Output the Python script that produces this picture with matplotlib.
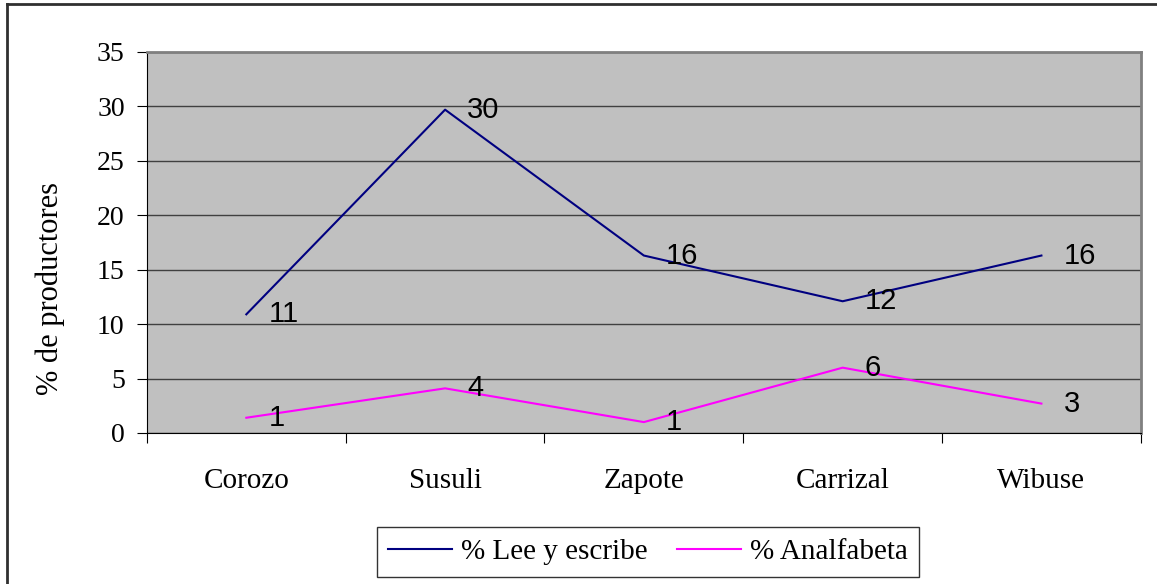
import matplotlib
matplotlib.use('Agg')
import matplotlib.pyplot as plt
from matplotlib.lines import Line2D

# datos
comunidades = ["Corozo", "Susuli", "Zapote", "Carrizal", "Wibuse"]
lee_escribe = [10.9, 29.7, 16.3, 12.1, 16.3]
analfabeta = [1.4, 4.1, 1.0, 6.0, 2.7]
yticks = [0, 5, 10, 15, 20, 25, 30, 35]

serif = ['Liberation Serif', 'DejaVu Serif']
sans = ['Liberation Sans', 'DejaVu Sans']

fig = plt.figure(figsize=(11.57, 5.84), dpi=100)
ax = fig.add_axes([0.127, 0.2586, 0.859, 0.6524])
ax.set_facecolor('#c0c0c0')

x = list(range(len(comunidades)))
ax.plot(x, lee_escribe, color='#000080', lw=1.5, label='% Lee y escribe')
ax.plot(x, analfabeta, color='#ff00ff', lw=1.5, label='% Analfabeta')

for serie in (lee_escribe, analfabeta):
    for xi, v in zip(x, serie):
        ax.annotate(f"{round(v)}", (xi, v), xytext=(16, 0), textcoords='offset points',
                    va='center', ha='left', fontsize=21, family=sans)

ax.set_xlim(-0.5, 4.5)
ax.set_ylim(0, 35)
ax.set_yticks(yticks)
ax.set_yticklabels([str(t) for t in yticks], family=serif, fontsize=20)
ax.yaxis.grid(True, color='#404040', lw=1)
ax.set_axisbelow(True)

# ticks del eje x en los limites de categoria, etiquetas centradas
ax.set_xticks([i - 0.5 for i in range(len(comunidades) + 1)])
ax.set_xticklabels([])
ax.set_xticks(x, minor=True)
ax.set_xticklabels(comunidades, minor=True, family=serif, fontsize=21)
ax.tick_params(axis='x', which='minor', length=0, pad=25)
ax.tick_params(axis='x', which='major', length=7, direction='out')
ax.tick_params(axis='y', length=7, direction='out', pad=9)

ax.set_ylabel('% de productores', family=serif, fontsize=22)
ax.yaxis.set_label_coords(-0.082, 0.378)

for s in ['top', 'right']:
    ax.spines[s].set_color('#808080')
    ax.spines[s].set_linewidth(2)
for s in ['left', 'bottom']:
    ax.spines[s].set_color('black')

leg = fig.legend(loc='center', bbox_to_anchor=(0.56, 0.055), ncol=2, frameon=True,
                 prop={'family': serif, 'size': 21}, fancybox=False,
                 handlelength=2.2, columnspacing=1.0, handletextpad=0.3,
                 borderpad=0.4)
leg.get_frame().set_edgecolor('black')
leg.get_frame().set_linewidth(1)

# borde del grafico (solo arriba e izquierda visibles)
fig.add_artist(Line2D([0.006, 1.0], [0.994, 0.994], transform=fig.transFigure, color='#303030', lw=2))
fig.add_artist(Line2D([0.006, 0.006], [0.0, 0.994], transform=fig.transFigure, color='#303030', lw=2))

plt.savefig('out.png', dpi=100)
